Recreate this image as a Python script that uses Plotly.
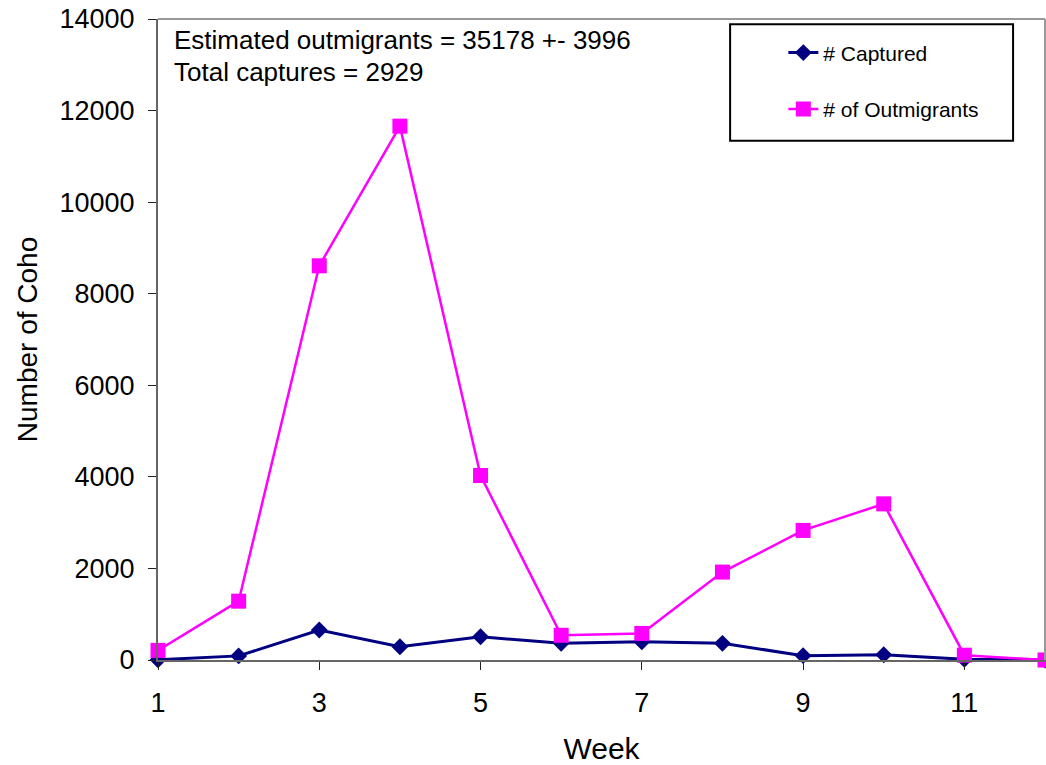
import plotly.graph_objects as go

# Weekly trap results for coho
weeks = list(range(1, 13))
captured = [5, 90, 654, 290, 508, 364, 400, 364, 95, 116, 15, 0]
outmigrants = [210, 1285, 8610, 11660, 4030, 540, 580, 1920, 2830, 3410, 105, 0]

x_ticks = [1, 3, 5, 7, 9, 11]
y_ticks = [0, 2000, 4000, 6000, 8000, 10000, 12000, 14000]

FONT = "Liberation Sans, Arial, sans-serif"

fig = go.Figure()
fig.add_trace(go.Scatter(
    x=weeks, y=captured, name="# Captured", mode="lines+markers",
    line=dict(color="#000080", width=3),
    marker=dict(symbol="diamond", size=13, color="#000080"),
    legendgroup="a", cliponaxis=False,
))
fig.add_trace(go.Scatter(
    x=weeks, y=outmigrants, name="# of Outmigrants", mode="lines+markers",
    line=dict(color="#FF00FF", width=2.5),
    marker=dict(symbol="square", size=15, color="#FF00FF"),
    legendgroup="b", cliponaxis=False,
))

L, R, T, B = 158, 1, 19, 105
fig.update_layout(
    width=1046, height=765,
    margin=dict(l=L, r=R, t=T, b=B),
    paper_bgcolor="white", plot_bgcolor="white",
    font=dict(family=FONT, color="black"),
    showlegend=True,
    legend=dict(
        x=0.705, y=0.979, xanchor="left", yanchor="top",
        bgcolor="rgba(0,0,0,0)", borderwidth=0,
        font=dict(size=21, family=FONT),
        tracegroupgap=26,
    ),
    xaxis=dict(
        range=[1, 12], tickvals=x_ticks, ticktext=[str(v) for v in x_ticks],
        showgrid=False, zeroline=False,
        showline=True, linecolor="#666666", linewidth=2,
        ticks="outside", ticklen=8, tickcolor="#222222", tickwidth=1,
        ticklabelstandoff=10,
        tickfont=dict(size=27, family=FONT),
        title=dict(text="Week", font=dict(size=30, family=FONT), standoff=22),
    ),
    yaxis=dict(
        range=[0, 14000], tickvals=y_ticks, ticktext=[str(v) for v in y_ticks],
        showgrid=False, zeroline=False,
        showline=True, linecolor="#666666", linewidth=2,
        ticks="outside", ticklen=8, tickcolor="#222222", tickwidth=1,
        ticklabelstandoff=8,
        tickfont=dict(size=27, family=FONT),
        title=dict(text="Number of Coho", font=dict(size=28, family=FONT), standoff=14),
    ),
)

# Plot-area frame on the top and right
fig.add_shape(type="line", xref="paper", yref="paper", x0=0, x1=1, y0=1, y1=1,
              line=dict(color="#999999", width=2))
fig.add_shape(type="line", xref="paper", yref="paper", x0=1, x1=1, y0=0, y1=1,
              line=dict(color="#999999", width=2))

# Legend box
fig.add_shape(type="rect", xref="paper", yref="paper",
              x0=0.645, x1=0.964, y0=0.81, y1=0.992,
              line=dict(color="black", width=2), fillcolor="rgba(0,0,0,0)", layer="below")

# Summary text
fig.add_annotation(xref="paper", yref="paper", x=0.016, y=0.968, xanchor="left", yanchor="middle",
                   text="Estimated outmigrants = 35178 +- 3996", showarrow=False,
                   font=dict(size=26, family=FONT))
fig.add_annotation(xref="paper", yref="paper", x=0.016, y=0.917, xanchor="left", yanchor="middle",
                   text="Total captures = 2929", showarrow=False,
                   font=dict(size=26, family=FONT))

fig.write_html("out.html")
